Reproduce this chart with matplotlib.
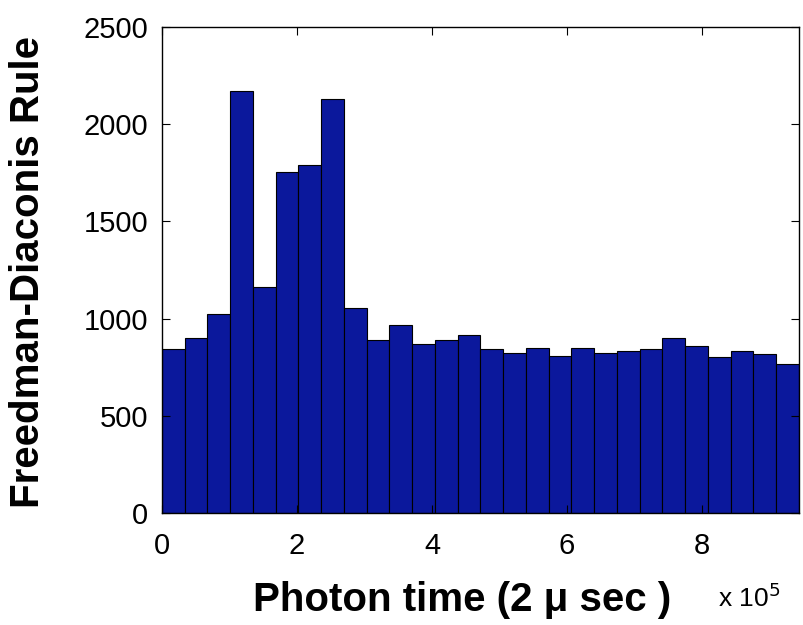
import matplotlib
matplotlib.use("Agg")
import matplotlib.pyplot as plt
import matplotlib.ticker as ticker
import numpy as np

# histogram counts (28 bins)
counts = [845, 901, 1025, 2172, 1163, 1756, 1788, 2130, 1057, 889,
          968, 871, 892, 914, 842, 825, 849, 808, 850, 825,
          835, 842, 898, 859, 801, 833, 818, 768]
xMax = 9.437e5
edges = np.linspace(0, xMax, len(counts) + 1)

xTicks = [0, 2e5, 4e5, 6e5, 8e5]
yTicks = [0, 500, 1000, 1500, 2000, 2500]

plt.rcParams['font.family'] = ['Liberation Sans', 'DejaVu Sans']

fig = plt.figure(figsize=(8.04, 6.25), dpi=100)
ax = fig.add_axes([162/804, 1-513/625, 637/804, 486/625])

ax.bar(edges[:-1], counts, width=np.diff(edges), align='edge',
       color='#0b189c', edgecolor='black', linewidth=0.8)

ax.set_xlim(0, xMax)
ax.set_ylim(0, 2500)
ax.set_xticks(xTicks)
ax.set_yticks(yTicks)
ax.xaxis.set_major_formatter(ticker.FuncFormatter(lambda v, p: "%d" % round(v/1e5)))
ax.tick_params(direction='in', top=True, right=True, length=6, width=0.8,
               labelsize=21)
ax.tick_params(axis='x', pad=14)
ax.tick_params(axis='y', pad=10)
for s in ax.spines.values():
    s.set_linewidth(1.0)

fig.text(28/804, 1-272/625, "Freedman-Diaconis Rule", rotation=90,
         ha='center', va='center', fontsize=29, fontweight='bold')
fig.text(462/804, 1-600/625, "Photon time (2 μ sec )",
         ha='center', va='center', fontsize=29, fontweight='bold')
fig.text(718/804, 1-598/625, r"x 10$^5$", ha='left', va='center', fontsize=19)

fig.savefig("out.png", dpi=100)
